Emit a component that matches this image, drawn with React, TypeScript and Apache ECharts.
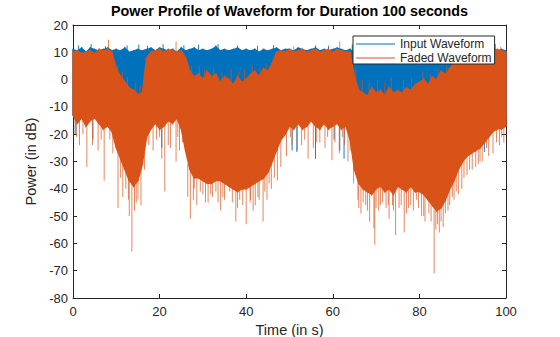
import React, { useEffect, useRef } from 'react';
import * as echarts from 'echarts';

// Sample grid: one envelope reading per second, t = 0 .. 100 s
const timeSeconds: number[] = Array.from({ length: 101 }, (_, i) => i);

// Input waveform envelope (dB)
const inputTop: number[] = [
  11, 10.5, 11.5, 10, 11.5, 11, 10.5, 11, 11.5, 10.5,
  11, 10.5, 11.5, 10, 10.5, 11, 10.5, 11, 11.5, 10.5,
  11.5, 11, 10.5, 11, 10, 11.5, 10.5, 11, 11.5, 10.5,
  11, 10.5, 11, 12, 10.5, 11, 10.5, 11, 11.5, 10.5,
  11, 10.5, 11, 10, 11, 10.5, 11, 11.5, 10.5, 11,
  11, 10.5, 11.5, 11, 10.5, 11, 11.5, 10.5, 11, 10.5,
  11, 11.5, 11, 10.5, 11, 10, 10.5, 9.5, 10, 10.5,
  10, 9.5, 10.5, 10, 9.5, 10.5, 10, 10.5, 10, 10.5,
  10, 10.5, 11, 10, 10.5, 10, 11, 10.5, 10, 10.5,
  11, 10.5, 11, 10.5, 11, 10.5, 11, 11.5, 10.5, 11,
  10.5,
];
const inputBottom: number[] = [
  -13, -14, -13, -15, -14, -13, -14, -15, -14, -13,
  -14, -15, -13, -14, -15, -14, -13, -15, -14, -13,
  -15, -14, -13, -14, -13, -15, -14, -13, -14, -15,
  -14, -13, -15, -14, -13, -14, -15, -14, -13, -14,
  -15, -14, -13, -14, -15, -13, -14, -15, -14, -13,
  -14, -15, -13, -14, -15, -13, -14, -15, -13, -14,
  -15, -14, -13, -14, -15, -14, -13, -14, -15, -14,
  -13, -14, -15, -14, -13, -14, -15, -14, -13, -14,
  -15, -14, -13, -14, -15, -14, -13, -14, -15, -14,
  -13, -14, -15, -14, -13, -15, -14, -13, -14, -15,
  -14,
];
// Input waveform isolated peaks [time s, dB]
const inputSpikes: number[][] = [
  [1.3, 12.5], [4.2, 13], [7.5, 12.2], [12.5, 12.5], [15.2, 12.8], [17.2, 12.4],
  [20.8, 13], [25.6, 12.6], [29, 12.8], [33.5, 13], [38, 12.5], [42.6, 12.4],
  [46.3, 12.6], [56, 12.5], [59, 12.4], [64.5, 12.8], [88, 12.3], [97.5, 13],
  [0.5, -20], [4.6, -22], [20.5, -25], [50.6, -26], [51.7, -26.5], [56, -29],
  [60.3, -22], [61.6, -26], [62.6, -29], [95, -26.5],
];

// Faded waveform envelope (dB)
const fadedTop: number[] = [
  10, 10.5, 9.5, 10, 10.5, 9.5, 11, 10.5, 11, 10,
  4, 1, -1, -3, -4, -5.5, -5, 8, 10, 10.5,
  11, 10, 11, 10.5, 10, 10.5, 8, 3, 1, 2,
  0, 3, 1, 2, -1, 1, 0, -2, 1, -1,
  0, 2, 3, 1, 4, 3, 6, 10, 10.5, 10,
  11, 10, 10.5, 11, 10, 10.5, 11, 10, 10.5, 11,
  10, 11, 10.5, 10, 10, 1, -4, -5, -6, -3,
  -5, -4, -6, -3, -5, -4, -5, -3, -4, -2,
  -1, 0, -2, 1, 0, 3, 2, 4, 6, 8,
  9, 10, 10.5, 10, 10.5, 11, 10, 10.5, 11, 10.5,
  10,
];
const fadedBottom: number[] = [
  -13, -16, -14, -17, -15, -14, -16, -18, -17, -19,
  -25, -29, -33, -37, -39, -37, -31, -21, -18, -16,
  -18, -17, -15, -16, -14, -18, -26, -33, -36, -36,
  -37, -38, -38, -37, -37, -38, -39, -40, -41, -40,
  -40, -39, -38, -37, -36, -34, -30, -26, -22, -20,
  -17, -18, -16, -18, -17, -15, -17, -18, -16, -18,
  -17, -16, -18, -17, -22, -33, -38, -40, -41, -42,
  -40, -39, -41, -40, -42, -39, -40, -41, -39, -41,
  -41, -42, -44, -46, -48, -47, -44, -40, -37, -33,
  -30, -28, -27, -26, -25, -23, -21, -19, -18, -18,
  -17,
];
// Faded waveform isolated peaks and deep nulls [time s, dB]
const fadedSpikes: number[][] = [
  [8.2, 14.6], [23.8, 14], [61.6, 14], [51, 12.2], [98.8, 12],
  [10.3, 5], [11.4, 3], [12.6, 1], [14.5, -1], [15.5, -2],
  [27.4, 5], [29.2, 5], [30.4, 4], [32.5, 4.5], [34.4, 3], [36.5, 4], [38.3, 3],
  [39.6, 3.5], [41.4, 5], [43.2, 4.5], [44.6, 6],
  [65.3, 4], [66.8, 0], [68.4, -1], [70.3, 0], [72, -1], [73.5, 1], [76.3, 0],
  [78.2, 1], [80.8, 3], [82.6, 2], [84.3, 4], [86.3, 5], [88.6, 9],
  [0.8, -21], [1.5, -24], [2.3, -20], [3.2, -32], [4.5, -24], [5.8, -26], [6.5, -22],
  [7.2, -37], [8.5, -22], [9.2, -27],
  [10.4, -47], [11, -36], [11.5, -43], [12.2, -40], [12.8, -44], [13, -50], [13.6, -63],
  [14.2, -48], [14.6, -45], [15, -44], [15.7, -46], [16.5, -33], [17.5, -24], [18.5, -26],
  [19.3, -22], [20, -21], [20.5, -29], [21.2, -41], [22, -24], [22.5, -25], [23.8, -30],
  [24.2, -21], [24.6, -26], [25.3, -23],
  [26.5, -43], [27.1, -51], [27.8, -44], [28, -40], [28.6, -46], [29.4, -41], [30, -42],
  [30.6, -45], [31.2, -45], [31.8, -42], [32.2, -43], [33, -41], [33.5, -45], [34.1, -48],
  [34.6, -43], [35, -44], [36.2, -41], [36.8, -45], [37.6, -52], [38, -47], [38.5, -44],
  [39.2, -46], [40, -53], [40.9, -45], [41, -44], [41.6, -48], [42.1, -46], [42.7, -43],
  [43, -44], [43.9, -52], [44.3, -41], [44.8, -44], [45.3, -38], [45.8, -40], [46.5, -36],
  [47.2, -37], [48, -32], [49.3, -28],
  [50.2, -21], [50.6, -24], [51.8, -26], [52.8, -24], [53.5, -22], [54.3, -29], [55.5, -25],
  [56.3, -23], [57, -23], [58.2, -25], [58.8, -21], [59.8, -29.5], [60.5, -23], [61.5, -27],
  [62.2, -21], [62.7, -24], [63.5, -30], [64, -26], [64.8, -38],
  [65.8, -44], [66, -47], [66.5, -49], [67, -45], [67.6, -46], [68, -48], [68.5, -52],
  [69.5, -54.5], [69.7, -60.5], [70, -47], [70.6, -48], [71, -46], [71.5, -45], [72.3, -47],
  [72.8, -46], [73, -51], [73.8, -46], [74, -48], [74.5, -57], [75.3, -47], [75.8, -46],
  [76.5, -56], [77, -49], [77.5, -47], [78, -46], [78.6, -48], [79.3, -44], [79.8, -47],
  [80.5, -50], [81, -50], [81.3, -52], [82.2, -49], [82.7, -52], [83.4, -71], [83.8, -55],
  [84.2, -53], [84.6, -56], [85, -52], [85.5, -54], [86, -49], [86.6, -48], [87, -46],
  [87.6, -43], [88, -44], [88.5, -41], [89, -42], [89.8, -40], [90.3, -36], [91, -35],
  [91.6, -33], [92.2, -33], [93, -32], [93.6, -31], [94, -30], [94.5, -30], [95.5, -25],
  [96, -28], [97, -27], [97.8, -23], [98.5, -24], [99, -21], [99.5, -23],
];

const xTicks = { min: 0, max: 100, interval: 20 };
const yTicks = { min: -80, max: 20, interval: 10 };

const BLUE = '#0072BD';
const ORANGE = '#D95319';
const INK = '#262626';
const FONT = '"Liberation Sans", Arial, Helvetica, sans-serif';

// Band between two envelopes, drawn one quad per second through the axis scales
function bandSeries(name: string, color: string, top: number[], bottom: number[], z: number) {
  const data: number[][] = [];
  for (let i = 0; i < timeSeconds.length - 1; i++) {
    data.push([timeSeconds[i], top[i], bottom[i], timeSeconds[i + 1], top[i + 1], bottom[i + 1]]);
  }
  return {
    name,
    type: 'custom',
    silent: true,
    z,
    itemStyle: { color },
    data,
    encode: { x: [0, 3], y: [1, 2, 4, 5] },
    renderItem: (_params: any, api: any) => {
      const a = api.coord([api.value(0), api.value(1)]);
      const b = api.coord([api.value(3), api.value(4)]);
      const c = api.coord([api.value(3), api.value(5)]);
      const d = api.coord([api.value(0), api.value(2)]);
      return {
        type: 'polygon',
        shape: { points: [a, b, c, d] },
        style: { fill: color, stroke: color, lineWidth: 1.4 },
      };
    },
  };
}

// Thin vertical strokes from the nearest envelope edge out to each peak/null
function spikeSeries(name: string, color: string, spikes: number[][], top: number[], bottom: number[], opacity: number, z: number) {
  return {
    name,
    type: 'custom',
    silent: true,
    z,
    data: spikes.map(([t, v]) => {
      const i = Math.round(t);
      const up = v > (top[i] + bottom[i]) / 2;
      return [t, up ? top[i] - 2 : bottom[i] + 2, v];
    }),
    encode: { x: 0, y: [1, 2] },
    renderItem: (_params: any, api: any) => {
      const p1 = api.coord([api.value(0), api.value(1)]);
      const p2 = api.coord([api.value(0), api.value(2)]);
      return {
        type: 'line',
        shape: { x1: p1[0], y1: p1[1], x2: p2[0], y2: p2[1] },
        style: { stroke: color, lineWidth: 1, opacity },
      };
    },
  };
}

const axisCommon = {
  axisLine: { show: true, onZero: false, lineStyle: { color: INK, width: 1 } },
  axisTick: { show: true, inside: true, length: 4, lineStyle: { color: INK } },
  splitLine: { show: false },
};

export default function App() {
  const ref = useRef<HTMLDivElement>(null);
  useEffect(() => {
    if (!ref.current) return;
    const chart = echarts.init(ref.current, undefined, { renderer: 'svg' });
    chart.setOption({
      animation: false,
      backgroundColor: '#ffffff',
      textStyle: { fontFamily: FONT },
      grid: { left: 73, right: 54, top: 25, bottom: 39, outerBoundsMode: 'none' },
      graphic: [
        {
          type: 'text',
          x: 289.5,
          y: 4,
          style: {
            text: 'Power Profile of Waveform for Duration 100 seconds',
            font: 'bold 14.3px ' + FONT,
            fill: '#000000',
            textAlign: 'center',
            textVerticalAlign: 'top',
          },
        },
      ],
      legend: {
        data: [
          { name: 'Input Waveform', itemStyle: { color: BLUE } },
          { name: 'Faded Waveform', itemStyle: { color: ORANGE } },
        ],
        orient: 'vertical',
        left: 353,
        top: 36,
        icon: 'rect',
        itemWidth: 39,
        itemHeight: 1,
        itemGap: 2,
        padding: [2, 3, 0, 3],
        borderColor: INK,
        borderWidth: 1,
        borderRadius: 0,
        backgroundColor: '#ffffff',
        selectedMode: false,
        textStyle: { fontSize: 12, color: INK, lineHeight: 12, fontFamily: FONT },
      },
      xAxis: [
        {
          type: 'value',
          position: 'bottom',
          ...xTicks,
          ...axisCommon,
          axisLabel: { color: INK, fontSize: 13, margin: 7, fontFamily: FONT },
          name: 'Time (in s)',
          nameLocation: 'middle',
          nameGap: 21,
          nameTextStyle: { color: INK, fontSize: 14.5, fontFamily: FONT },
        },
        {
          type: 'value',
          position: 'top',
          ...xTicks,
          ...axisCommon,
          axisLabel: { show: false },
        },
      ],
      yAxis: [
        {
          type: 'value',
          position: 'left',
          ...yTicks,
          ...axisCommon,
          axisLabel: { color: INK, fontSize: 13, margin: 5, fontFamily: FONT },
          name: 'Power (in dB)',
          nameLocation: 'middle',
          nameGap: 29,
          nameTextStyle: { color: INK, fontSize: 14.5, fontFamily: FONT },
        },
        {
          type: 'value',
          position: 'right',
          ...yTicks,
          ...axisCommon,
          axisLabel: { show: false },
        },
      ],
      series: [
        bandSeries('Input Waveform', BLUE, inputTop, inputBottom, 2),
        spikeSeries('Input peaks', BLUE, inputSpikes, inputTop, inputBottom, 0.9, 2),
        bandSeries('Faded Waveform', ORANGE, fadedTop, fadedBottom, 3),
        spikeSeries('Faded peaks', ORANGE, fadedSpikes, fadedTop, fadedBottom, 0.7, 3),
      ],
    });
    return () => chart.dispose();
  }, []);
  return (
    <div
      ref={ref}
      style={{ position: 'absolute', left: 0, top: 0, width: 560, height: 337 }}
    />
  );
}
